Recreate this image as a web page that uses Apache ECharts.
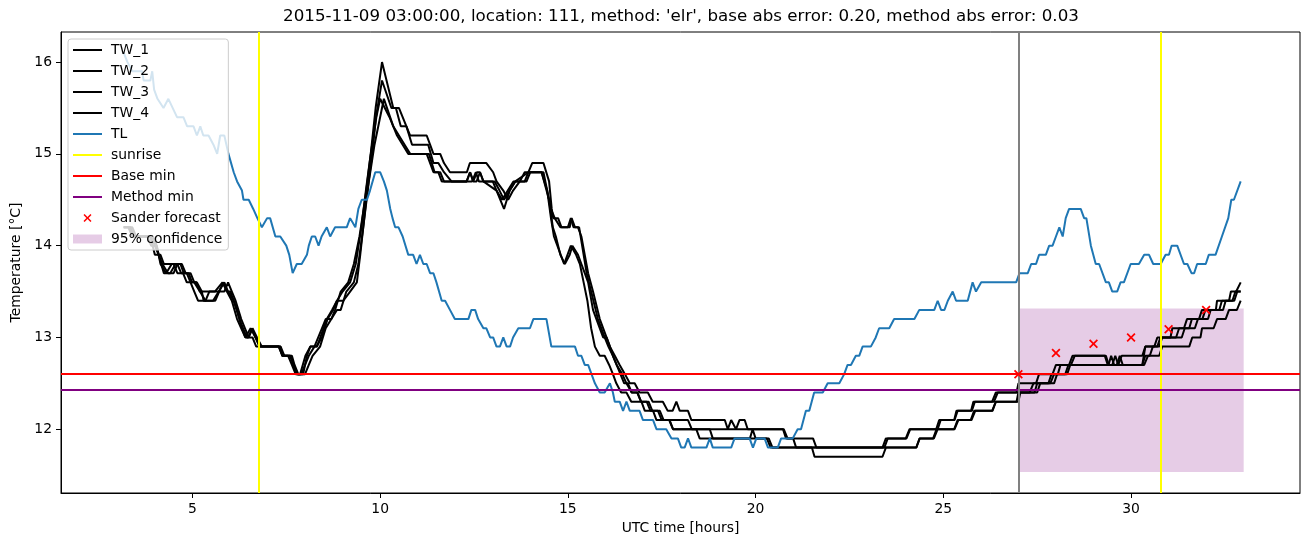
<!DOCTYPE html>
<html>
<head>
<meta charset="utf-8">
<script src="https://cdn.jsdelivr.net/npm/echarts@6/dist/echarts.min.js"></script>
<style>html,body{margin:0;padding:0;background:#fff;}#c{width:1311px;height:547px;}</style>
</head>
<body>
<div id="c"></div>
<script>
// ---------------- data ----------------
const titleText = "2015-11-09 03:00:00, location: 111, method: 'elr', base abs error: 0.20, method abs error: 0.03";
const xTicks = [5, 10, 15, 20, 25, 30];
const yTicks = [12, 13, 14, 15, 16];
const sunrise = [6.78, 30.78];
const baseMin = 12.6;
const methodMin = 12.43;
const forecastStart = 27.0;
const confidenceHours = [27.0, 33.0];
const confidenceBounds = [11.533, 13.315];
const forecastHours = [27, 28, 29, 30, 31, 32];
const forecastValues = [12.6, 12.83, 12.93, 13.0, 13.09, 13.3];

const tl = [[3.17,16.1],[3.27,16.0],[3.4,15.9],[3.66,15.9],[3.7,15.8],[3.88,15.8],[3.93,15.9],[3.98,15.7],[4.07,15.6],[4.23,15.5],[4.36,15.6],[4.59,15.4],[4.76,15.4],[4.86,15.3],[5.03,15.3],[5.12,15.2],[5.21,15.3],[5.29,15.2],[5.43,15.2],[5.56,15.1],[5.66,15.0],[5.74,15.2],[5.85,15.2],[5.96,15.0],[6.01,15.0],[6.1,14.8],[6.19,14.7],[6.32,14.6],[6.36,14.5],[6.5,14.5],[6.62,14.4],[6.73,14.3],[6.85,14.2],[6.99,14.3],[7.07,14.3],[7.21,14.1],[7.34,14.1],[7.5,14.0],[7.58,13.9],[7.67,13.7],[7.78,13.8],[7.91,13.8],[8.05,13.9],[8.1,14.0],[8.18,14.1],[8.27,14.1],[8.36,14.0],[8.44,14.1],[8.58,14.2],[8.67,14.1],[8.8,14.2],[9.11,14.2],[9.2,14.3],[9.34,14.2],[9.42,14.4],[9.51,14.5],[9.65,14.5],[9.73,14.6],[9.87,14.8],[10.0,14.8],[10.1,14.7],[10.18,14.6],[10.27,14.4],[10.33,14.3],[10.4,14.2],[10.49,14.2],[10.6,14.1],[10.75,13.9],[10.88,13.9],[10.97,13.8],[11.06,13.9],[11.15,13.8],[11.24,13.8],[11.33,13.7],[11.42,13.7],[11.5,13.6],[11.64,13.4],[11.73,13.4],[11.86,13.3],[11.9,13.3],[11.99,13.2],[12.35,13.2],[12.43,13.3],[12.53,13.3],[12.61,13.2],[12.66,13.2],[12.75,13.1],[12.83,13.1],[12.93,13.0],[13.01,13.0],[13.1,12.9],[13.19,12.9],[13.28,13.0],[13.37,12.9],[13.46,12.9],[13.54,13.0],[13.59,13.0],[13.68,13.1],[13.99,13.1],[14.08,13.2],[14.43,13.2],[14.56,12.9],[15.19,12.9],[15.27,12.8],[15.36,12.8],[15.45,12.7],[15.54,12.7],[15.63,12.6],[15.72,12.5],[15.85,12.4],[15.98,12.4],[16.12,12.5],[16.2,12.4],[16.25,12.3],[16.38,12.3],[16.47,12.2],[16.56,12.3],[16.65,12.2],[16.91,12.2],[17.0,12.1],[17.27,12.1],[17.36,12.0],[17.62,12.0],[17.76,11.9],[17.93,11.9],[18.02,11.8],[18.11,11.8],[18.2,11.9],[18.29,11.8],[18.69,11.8],[18.78,11.9],[18.86,11.8],[19.35,11.8],[19.44,11.9],[19.84,11.9],[19.93,11.8],[20.02,11.9],[20.24,11.9],[20.33,11.8],[20.59,11.8],[20.68,11.9],[20.99,11.9],[21.12,12.0],[21.21,12.0],[21.34,12.2],[21.43,12.2],[21.56,12.4],[21.79,12.4],[21.92,12.5],[22.23,12.5],[22.36,12.6],[22.45,12.7],[22.54,12.7],[22.67,12.8],[22.76,12.8],[22.85,12.9],[23.07,12.9],[23.2,13.0],[23.29,13.1],[23.56,13.1],[23.69,13.2],[24.23,13.2],[24.36,13.3],[24.76,13.3],[24.85,13.4],[24.94,13.3],[25.03,13.3],[25.12,13.4],[25.25,13.5],[25.34,13.4],[25.65,13.4],[25.78,13.6],[25.87,13.5],[26.01,13.6],[26.94,13.6],[27.03,13.7],[27.25,13.7],[27.34,13.8],[27.47,13.8],[27.55,13.9],[27.73,13.9],[27.82,14.0],[27.91,14.0],[28.0,14.1],[28.09,14.2],[28.18,14.1],[28.26,14.3],[28.35,14.4],[28.66,14.4],[28.75,14.3],[28.81,14.3],[28.93,14.0],[29.06,13.8],[29.15,13.8],[29.33,13.6],[29.41,13.6],[29.5,13.5],[29.63,13.5],[29.72,13.6],[29.81,13.6],[29.99,13.8],[30.21,13.8],[30.35,13.9],[30.48,13.9],[30.59,13.8],[30.79,13.8],[30.92,13.9],[31.01,13.9],[31.08,14.0],[31.23,14.0],[31.41,13.8],[31.5,13.8],[31.61,13.7],[31.68,13.7],[31.76,13.8],[31.99,13.8],[32.07,13.9],[32.25,13.9],[32.42,14.1],[32.59,14.3],[32.67,14.5],[32.74,14.5],[32.92,14.7]];

const tw1 = [[3.17,14.2],[3.3,14.2],[3.4,14.1],[3.88,14.1],[4.0,13.9],[4.15,13.9],[4.24,13.8],[4.5,13.8],[4.6,13.7],[4.75,13.7],[4.85,13.6],[5.1,13.6],[5.2,13.5],[5.6,13.5],[5.8,13.6],[5.92,13.5],[6.05,13.4],[6.19,13.2],[6.3,13.1],[6.41,13.0],[6.55,13.1],[6.68,13.0],[6.79,12.9],[7.3,12.9],[7.4,12.8],[7.6,12.8],[7.7,12.7],[7.8,12.6],[7.95,12.6],[8.05,12.8],[8.14,12.9],[8.3,12.9],[8.45,13.0],[8.6,13.2],[8.75,13.3],[8.85,13.4],[9.0,13.5],[9.2,13.6],[9.35,13.8],[9.5,14.2],[9.62,14.6],[9.75,15.0],[9.88,15.5],[10.05,16.0],
  [10.35,15.5],[10.5,15.5],[10.6,15.4],[10.8,15.2],[11.24,15.2],[11.33,15.1],[11.42,15.0],[11.6,15.0],[11.7,14.9],[11.86,14.8],[12.31,14.8],[12.39,14.9],[12.83,14.9],[13.01,14.8],[13.1,14.7],[13.28,14.6],[13.41,14.5],[13.54,14.6],[13.72,14.7],[13.85,14.8],[13.95,14.8],[14.05,14.9],[14.35,14.9],[14.5,14.7],
  [14.57,14.4],[14.61,14.3],[14.74,14.3],[14.83,14.2],[15.05,14.2],[15.1,14.3],[15.19,14.2],[15.27,14.2],[15.36,14.1],[15.45,13.9],[15.54,13.7],[15.67,13.5],[15.85,13.2],[16.03,13.0],[16.12,12.9],[16.25,12.8],[16.38,12.7],[16.52,12.6],[16.65,12.5],[16.78,12.5],[16.91,12.4],[17.13,12.4],[17.26,12.3],[17.53,12.3],[17.66,12.2],[17.79,12.2],[17.89,12.3],[17.98,12.2],[18.2,12.2],[18.29,12.1],[19.18,12.1],[19.26,12.0],[19.35,12.1],[19.48,12.0],[19.57,12.1],[19.71,12.1],[19.79,12.0],[20.73,12.0],[20.81,11.9],[21.53,11.9],[21.62,11.8],[23.38,11.8],[23.47,11.9],[24.0,11.9],[24.1,12.0],[24.81,12.0],[24.89,12.1],[25.29,12.1],[25.35,12.2],[25.74,12.2],[25.8,12.3],[26.3,12.3],[26.4,12.4],[26.95,12.4],[27.0,12.5],
  [27.47,12.5],[27.55,12.6],[27.91,12.6],[28.0,12.7],[28.35,12.7],[28.44,12.8],[29.33,12.8],[29.41,12.7],[29.5,12.7],[29.58,12.8],[29.66,12.7],[29.75,12.8],[30.3,12.8],[30.38,12.9],[30.62,12.9],[30.7,13.0],[31.05,13.0],[31.1,13.1],[31.41,13.1],[31.49,13.2],[31.81,13.2],[31.89,13.3],[32.26,13.3],[32.29,13.4],[32.61,13.4],[32.66,13.5],[32.8,13.5],[32.92,13.6]];

const tw2 = [[3.17,14.2],[3.35,14.2],[3.45,14.1],[3.95,14.1],[4.05,14.0],[4.1,13.9],[4.24,13.7],[4.41,13.7],[4.55,13.8],[4.68,13.8],[4.77,13.7],[4.9,13.7],[4.99,13.6],[5.12,13.6],[5.25,13.5],[5.3,13.4],[5.61,13.4],[5.82,13.6],[5.92,13.5],[6.01,13.5],[6.19,13.3],[6.32,13.1],[6.41,13.0],[6.49,13.0],[6.59,13.1],[6.68,13.0],[6.79,12.9],[7.34,12.9],[7.39,12.8],[7.61,12.8],[7.69,12.7],[7.78,12.6],[7.87,12.6],[8.01,12.8],[8.14,12.9],[8.32,12.9],[8.58,13.2],[8.72,13.3],[8.85,13.4],[9.02,13.4],[9.2,13.5],[9.38,13.6],[9.47,13.9],[9.63,14.5],[9.79,15.0],[9.89,15.4],[10.05,15.8],
  [10.3,15.5],[10.42,15.5],[10.55,15.3],[10.7,15.3],[10.85,15.1],[11.28,15.1],[11.42,14.9],[11.55,14.9],[11.7,14.8],[11.9,14.7],[12.3,14.7],[12.4,14.8],[12.48,14.7],[12.58,14.8],[12.66,14.8],[12.75,14.7],[13.05,14.7],[13.18,14.6],[13.3,14.5],[13.45,14.6],[13.6,14.7],[13.9,14.7],[14.0,14.8],[14.35,14.8],[14.45,14.6],
  [14.55,14.4],[14.65,14.3],[14.8,14.2],[15.0,14.2],[15.08,14.3],[15.15,14.2],[15.3,14.2],[15.38,14.0],[15.5,13.7],[15.62,13.5],[15.8,13.2],[15.98,13.0],[16.08,12.9],[16.2,12.8],[16.3,12.7],[16.45,12.6],[16.56,12.5],[16.7,12.4],[16.85,12.4],[16.95,12.3],[17.15,12.3],[17.25,12.2],[17.45,12.2],[17.55,12.1],[18.2,12.1],[18.3,12.0],[20.75,12.0],[20.85,11.9],[21.0,11.9],[21.08,11.8],[23.43,11.8],[23.52,11.9],[24.02,11.9],[24.12,12.0],[24.85,12.0],[24.93,12.1],[25.3,12.1],[25.38,12.2],[25.76,12.2],[25.84,12.3],[26.35,12.3],[26.45,12.4],[27.0,12.4],
  [27.3,12.4],[27.4,12.5],[27.8,12.5],[27.88,12.6],[28.05,12.6],[28.12,12.7],[28.4,12.7],[28.5,12.8],[29.3,12.8],[29.38,12.7],[30.3,12.7],[30.38,12.8],[30.5,12.8],[30.58,12.9],[30.75,12.9],[30.83,13.0],[31.2,13.0],[31.28,13.1],[31.55,13.1],[31.62,13.2],[31.9,13.2],[31.98,13.3],[32.35,13.3],[32.42,13.4],[32.7,13.4],[32.78,13.5],[32.92,13.5]];

const tw3 = [[3.17,14.2],[3.3,14.2],[3.4,14.1],[3.8,14.1],[3.9,14.0],[4.05,14.0],[4.15,13.8],[4.3,13.7],[4.45,13.8],[4.6,13.8],[4.7,13.7],[4.85,13.7],[4.95,13.6],[5.05,13.5],[5.15,13.4],[5.35,13.4],[5.45,13.5],[5.7,13.5],[5.85,13.6],[5.95,13.5],[6.1,13.4],[6.25,13.2],[6.35,13.1],[6.45,13.0],[6.6,13.0],[6.7,12.9],[7.3,12.9],[7.4,12.8],[7.55,12.8],[7.65,12.7],[7.75,12.6],[7.9,12.6],[8.0,12.7],[8.1,12.8],[8.25,12.9],[8.45,13.1],[8.55,13.2],[8.7,13.2],[8.8,13.3],[8.95,13.5],[9.15,13.6],[9.3,13.8],[9.45,14.1],[9.6,14.5],[9.75,15.0],[9.9,15.4],[10.0,15.6],
  [10.25,15.4],[10.45,15.2],[10.6,15.1],[10.75,15.0],[11.24,15.0],[11.42,14.8],[11.55,14.8],[11.64,14.7],[12.31,14.7],[12.39,14.8],[12.48,14.7],[12.57,14.7],[12.66,14.8],[12.75,14.7],[13.1,14.6],[13.3,14.4],[13.45,14.6],[13.6,14.7],[13.95,14.8],[14.3,14.8],[14.45,14.6],
  [14.55,14.3],[14.63,14.1],[14.72,14.0],[14.9,13.8],[15.08,14.0],[15.22,13.9],[15.32,13.8],[15.42,13.6],[15.52,13.4],[15.62,13.1],[15.72,12.9],[15.85,12.8],[15.98,12.8],[16.1,12.7],[16.2,12.6],[16.29,12.5],[16.42,12.4],[16.56,12.4],[16.69,12.3],[16.96,12.3],[17.05,12.2],[17.27,12.2],[17.36,12.1],[17.71,12.1],[17.8,12.0],[18.42,12.0],[18.51,11.9],[20.35,11.9],[20.45,11.8],[21.5,11.8],[21.57,11.7],[23.38,11.7],[23.47,11.8],[24.28,11.8],[24.37,11.9],[24.73,11.9],[24.82,12.0],[25.29,12.0],[25.38,12.1],[25.73,12.1],[25.82,12.2],[26.31,12.2],[26.4,12.3],[27.0,12.3],
  [27.05,12.4],[27.43,12.4],[27.5,12.5],[27.85,12.5],[27.95,12.6],[28.3,12.6],[28.38,12.7],[30.35,12.7],[30.45,12.8],[30.75,12.8],[30.83,12.9],[31.55,12.9],[31.63,13.0],[31.85,13.0],[31.89,13.1],[32.2,13.1],[32.29,13.2],[32.52,13.2],[32.61,13.3],[32.82,13.3],[32.92,13.4]];

const tw4 = [[3.17,14.2],[3.4,14.2],[3.5,14.1],[3.9,14.1],[4.0,14.0],[4.2,13.8],[4.35,13.7],[4.5,13.7],[4.6,13.8],[4.72,13.8],[4.82,13.7],[4.95,13.7],[5.05,13.6],[5.2,13.5],[5.35,13.4],[5.55,13.4],[5.7,13.5],[5.85,13.5],[5.95,13.6],[6.05,13.5],[6.15,13.4],[6.3,13.2],[6.4,13.1],[6.5,13.0],[6.6,13.1],[6.72,13.0],[6.85,12.9],[7.35,12.9],[7.45,12.8],[7.65,12.8],[7.72,12.7],[7.82,12.6],[8.0,12.6],[8.1,12.7],[8.2,12.8],[8.4,12.9],[8.55,13.1],[8.7,13.2],[8.85,13.3],[8.95,13.3],[9.1,13.5],[9.3,13.6],[9.42,13.8],[9.55,14.2],[9.7,14.7],[9.85,15.1],[10.1,15.6],
  [10.35,15.3],[10.5,15.2],[10.8,15.0],[11.3,15.0],[11.45,14.8],[11.6,14.8],[11.7,14.7],[12.35,14.7],[12.45,14.7],[12.55,14.8],[12.63,14.7],[13.0,14.7],[13.1,14.6],[13.25,14.5],[13.4,14.6],[13.55,14.7],[13.85,14.7],[13.95,14.8],[14.3,14.8],[14.5,14.5],
  [14.6,14.2],[14.68,14.1],[14.8,13.9],[14.92,13.8],[15.05,13.9],[15.12,14.0],[15.27,13.9],[15.36,13.8],[15.45,13.7],[15.54,13.6],[15.67,13.3],[15.76,13.2],[15.94,13.0],[16.03,13.0],[16.12,12.9],[16.2,12.8],[16.3,12.7],[16.4,12.6],[16.5,12.5],[16.6,12.5],[16.7,12.4],[16.85,12.4],[16.95,12.3],[17.1,12.3],[17.2,12.2],[17.4,12.2],[17.5,12.1],[17.7,12.1],[17.8,12.0],[18.78,12.0],[18.86,11.9],[19.85,11.9],[19.92,12.0],[20.0,11.9],[20.3,11.9],[20.4,11.8],[24.28,11.8],[24.37,11.9],[24.75,11.9],[24.85,12.0],[25.3,12.0],[25.4,12.1],[25.75,12.1],[25.85,12.2],[26.3,12.2],[26.4,12.3],[26.95,12.3],[27.0,12.4],
  [27.5,12.4],[27.58,12.5],[27.95,12.5],[28.03,12.6],[28.25,12.6],[28.33,12.7],[29.4,12.7],[29.47,12.8],[29.55,12.7],[29.62,12.7],[29.7,12.8],[29.78,12.7],[30.3,12.7],[30.38,12.9],[30.7,12.9],[30.78,13.0],[31.35,13.0],[31.43,13.1],[31.7,13.1],[31.78,13.2],[32.05,13.2],[32.12,13.3],[32.45,13.3],[32.52,13.4],[32.75,13.4],[32.83,13.5],[32.92,13.5]];

// ---------------- chart ----------------
const FONT = 'DejaVu Sans';
const BOX = 'M0,0L0.01,0L0,0.01Z M29,14L28.99,14L29,13.99Z ';
const crossSymbol = 'path://M0,1.1L1.1,0L4,2.9L6.9,0L8,1.1L5.1,4L8,6.9L6.9,8L4,5.1L1.1,8L0,6.9L2.9,4Z';
const crossLegend = 'path://' + BOX + 'M10.5,4.1L11.6,3L14.5,5.9L17.4,3L18.5,4.1L15.6,7L18.5,9.9L17.4,11L14.5,8.1L11.6,11L10.5,9.9L13.4,7Z';
const rectLegend = 'path://' + BOX + 'M0,2.5L29,2.5L29,11.5L0,11.5Z';
const lineLegend = 'path://' + BOX + 'M0,6L29,6L29,8L0,8Z';

function lineSeries(name, data, color) {
  return {
    name: name, type: 'line', data: data, symbol: 'none', showSymbol: false,
    color: color, lineStyle: {color: color, width: 2}, itemStyle: {color: color},
    animation: false, silent: true, z: 2
  };
}
function markSeries(name, color, marks) {
  return {
    name: name, type: 'line', data: [], symbol: 'none', color: color,
    lineStyle: {color: color, width: 2}, itemStyle: {color: color}, animation: false, silent: true, z: 3,
    markLine: {
      silent: true, symbol: ['none', 'none'], animation: false,
      label: {show: false}, emphasis: {disabled: true},
      lineStyle: {color: color, width: 2, type: 'solid'},
      data: marks
    }
  };
}

const series = [
  lineSeries('TW_1', tw1, '#000000'),
  lineSeries('TW_2', tw2, '#000000'),
  lineSeries('TW_3', tw3, '#000000'),
  lineSeries('TW_4', tw4, '#000000'),
  lineSeries('TL', tl, '#1f77b4'),
  markSeries('sunrise', '#ffff00', sunrise.map(v => ({xAxis: v}))),
  markSeries('Base min', '#ff0000', [{yAxis: baseMin}]),
  markSeries('Method min', '#800080', [{yAxis: methodMin}]),
  markSeries('forecast start', '#808080', [{xAxis: forecastStart}]),
  {
    name: 'Sander forecast', type: 'scatter', data: forecastHours.map((h, i) => [h, forecastValues[i]]),
    symbol: crossSymbol, symbolSize: 9, color: '#ff0000', itemStyle: {color: '#ff0000', opacity: 1},
    animation: false, silent: true, z: 5
  },
  {
    name: '95% confidence', type: 'line', data: [], symbol: 'none', color: 'rgba(128,0,128,0.2)',
    itemStyle: {color: 'rgba(128,0,128,0.2)'}, animation: false, silent: true, z: 1,
    markArea: {
      silent: true, animation: false, label: {show: false},
      itemStyle: {color: 'rgba(128,0,128,0.2)'},
      data: [[{xAxis: confidenceHours[0], yAxis: confidenceBounds[0]}, {xAxis: confidenceHours[1], yAxis: confidenceBounds[1]}]]
    }
  }
];

const chart = echarts.init(document.getElementById('c'), null, {renderer: 'canvas', width: 1311, height: 547});
chart.setOption({
  animation: false,
  backgroundColor: '#ffffff',
  textStyle: {fontFamily: FONT},
  title: {
    text: titleText, left: 676, top: 3, textAlign: 'center',
    textStyle: {fontFamily: FONT, fontSize: 16.7, fontWeight: 'normal', color: '#000'}
  },
  grid: {left: 61, right: 11, top: 32, bottom: 54, show: true, borderColor: '#000', borderWidth: 1, backgroundColor: 'transparent'},
  xAxis: {
    type: 'value', min: 1.5, max: 34.5,
    name: 'UTC time [hours]', nameLocation: 'middle', nameGap: 28,
    nameTextStyle: {fontFamily: FONT, fontSize: 13.9, color: '#000'},
    axisLine: {onZero: false, lineStyle: {color: '#000', width: 1}},
    axisTick: {show: true, customValues: xTicks, length: 5, lineStyle: {color: '#000', width: 1}},
    axisLabel: {customValues: xTicks, margin: 9, fontFamily: FONT, fontSize: 13.9, color: '#000'},
    splitLine: {show: false}
  },
  yAxis: {
    type: 'value', min: 11.305, max: 16.328,
    name: 'Temperature [°C]', nameLocation: 'middle', nameGap: 35, nameRotate: 90,
    nameTextStyle: {fontFamily: FONT, fontSize: 13.9, color: '#000'},
    axisLine: {show: true, onZero: false, lineStyle: {color: '#000', width: 1}},
    axisTick: {show: true, customValues: yTicks, length: 5, lineStyle: {color: '#000', width: 1}},
    axisLabel: {customValues: yTicks, margin: 9, fontFamily: FONT, fontSize: 13.9, color: '#000'},
    splitLine: {show: false}
  },
  legend: {
    orient: 'vertical', left: 68, top: 39, itemWidth: 29, itemHeight: 14, itemGap: 7,
    padding: [4, 6, 4, 5], backgroundColor: 'rgba(255,255,255,0.8)', borderColor: '#cccccc', borderWidth: 1, borderRadius: 3,
    selectedMode: false, z: 10,
    textStyle: {fontFamily: FONT, fontSize: 13.9, color: '#000', padding: [0, 0, 0, 4]},
    data: [
      {name: 'TW_1', icon: lineLegend}, {name: 'TW_2', icon: lineLegend}, {name: 'TW_3', icon: lineLegend},
      {name: 'TW_4', icon: lineLegend}, {name: 'TL', icon: lineLegend},
      {name: 'sunrise', icon: lineLegend}, {name: 'Base min', icon: lineLegend}, {name: 'Method min', icon: lineLegend},
      {name: 'Sander forecast', icon: crossLegend},
      {name: '95% confidence', icon: rectLegend}
    ]
  },
  series: series
});
</script>
</body>
</html>
